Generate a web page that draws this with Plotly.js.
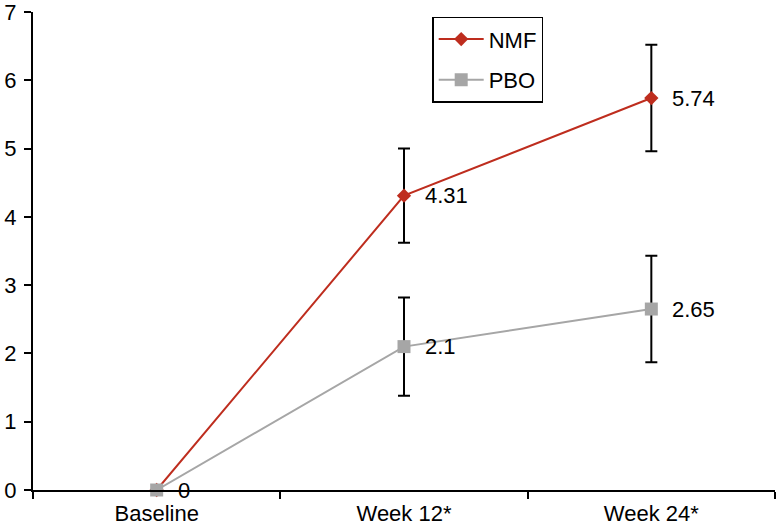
<!DOCTYPE html>
<html>
<head>
<meta charset="utf-8">
<script src="https://cdn.plot.ly/plotly-3.0.1.min.js"></script>
<style>
  html, body { margin: 0; padding: 0; background: #fff; }
  #chart { width: 777px; height: 529px; }
</style>
</head>
<body>
<div id="chart"></div>
<script>
const categories = ["Baseline", "Week 12*", "Week 24*"];
const nmfValues = [0, 4.31, 5.74];
const nmfErrors = [null, 0.69, 0.78];
const pboValues = [0, 2.1, 2.65];
const pboErrors = [null, 0.72, 0.78];
const nmfLabels = ["", "4.31", "5.74"];
const pboLabels = ["0", "2.1", "2.65"];
const yTicks = [0, 1, 2, 3, 4, 5, 6, 7];

const FONT = "Arial, 'Liberation Sans', sans-serif";
const FS = 22;
const RED = "#BE2D1E";
const GRAY = "#A6A6A6";

const traces = [
  {
    x: categories, y: nmfValues, name: "NMF", type: "scatter", mode: "lines+markers",
    legendgroup: "a",
    line: { color: RED, width: 2 },
    marker: { symbol: "diamond", size: 11, color: RED },
    error_y: { type: "data", array: nmfErrors, visible: true, color: "#000", thickness: 2, width: 6 },
    cliponaxis: false
  },
  {
    x: categories, y: pboValues, name: "PBO", type: "scatter", mode: "lines+markers",
    legendgroup: "b",
    line: { color: GRAY, width: 2 },
    marker: { symbol: "square", size: 13, color: GRAY },
    error_y: { type: "data", array: pboErrors, visible: true, color: "#000", thickness: 2, width: 6 },
    cliponaxis: false
  }
];

const annotations = [];
function addLabels(vals, labels) {
  vals.forEach((v, i) => {
    if (labels[i] === "") return;
    annotations.push({
      x: categories[i], y: v, xref: "x", yref: "y",
      text: labels[i], showarrow: false, xanchor: "left", yanchor: "middle",
      xshift: 19, font: { family: FONT, size: FS, color: "#000" }
    });
  });
}
addLabels(nmfValues, nmfLabels);
addLabels(pboValues, pboLabels);

const layout = {
  width: 777, height: 529,
  margin: { l: 33, r: 2, t: 12, b: 39 },
  paper_bgcolor: "#fff", plot_bgcolor: "#fff",
  font: { family: FONT, size: FS, color: "#000" },
  showlegend: true,
  legend: {
    x: 0.538, y: 0.99, xanchor: "left", yanchor: "top",
    bordercolor: "#000", borderwidth: 1.5, bgcolor: "#fff",
    font: { family: FONT, size: FS, color: "#000" },
    tracegroupgap: 9, itemwidth: 45
  },
  xaxis: {
    type: "category", range: [-0.5, 2.5],
    showline: true, linecolor: "#000", linewidth: 2,
    ticks: "outside", tickson: "boundaries", ticklen: 7, tickwidth: 2, tickcolor: "#000",
    showgrid: false, zeroline: false,
    ticklabelstandoff: 3,
    tickfont: { family: FONT, size: FS, color: "#000" }
  },
  yaxis: {
    range: [0, 7], tickvals: yTicks, ticktext: yTicks.map(String),
    showline: true, linecolor: "#000", linewidth: 2,
    ticks: "outside", ticklen: 7, tickwidth: 2, tickcolor: "#000",
    showgrid: false, zeroline: false,
    ticklabelstandoff: 3, ticklabeloverflow: "allow",
    tickfont: { family: FONT, size: FS, color: "#000" }
  },
  annotations: annotations
};

Plotly.newPlot("chart", traces, layout, { displayModeBar: false, staticPlot: true });
</script>
</body>
</html>
